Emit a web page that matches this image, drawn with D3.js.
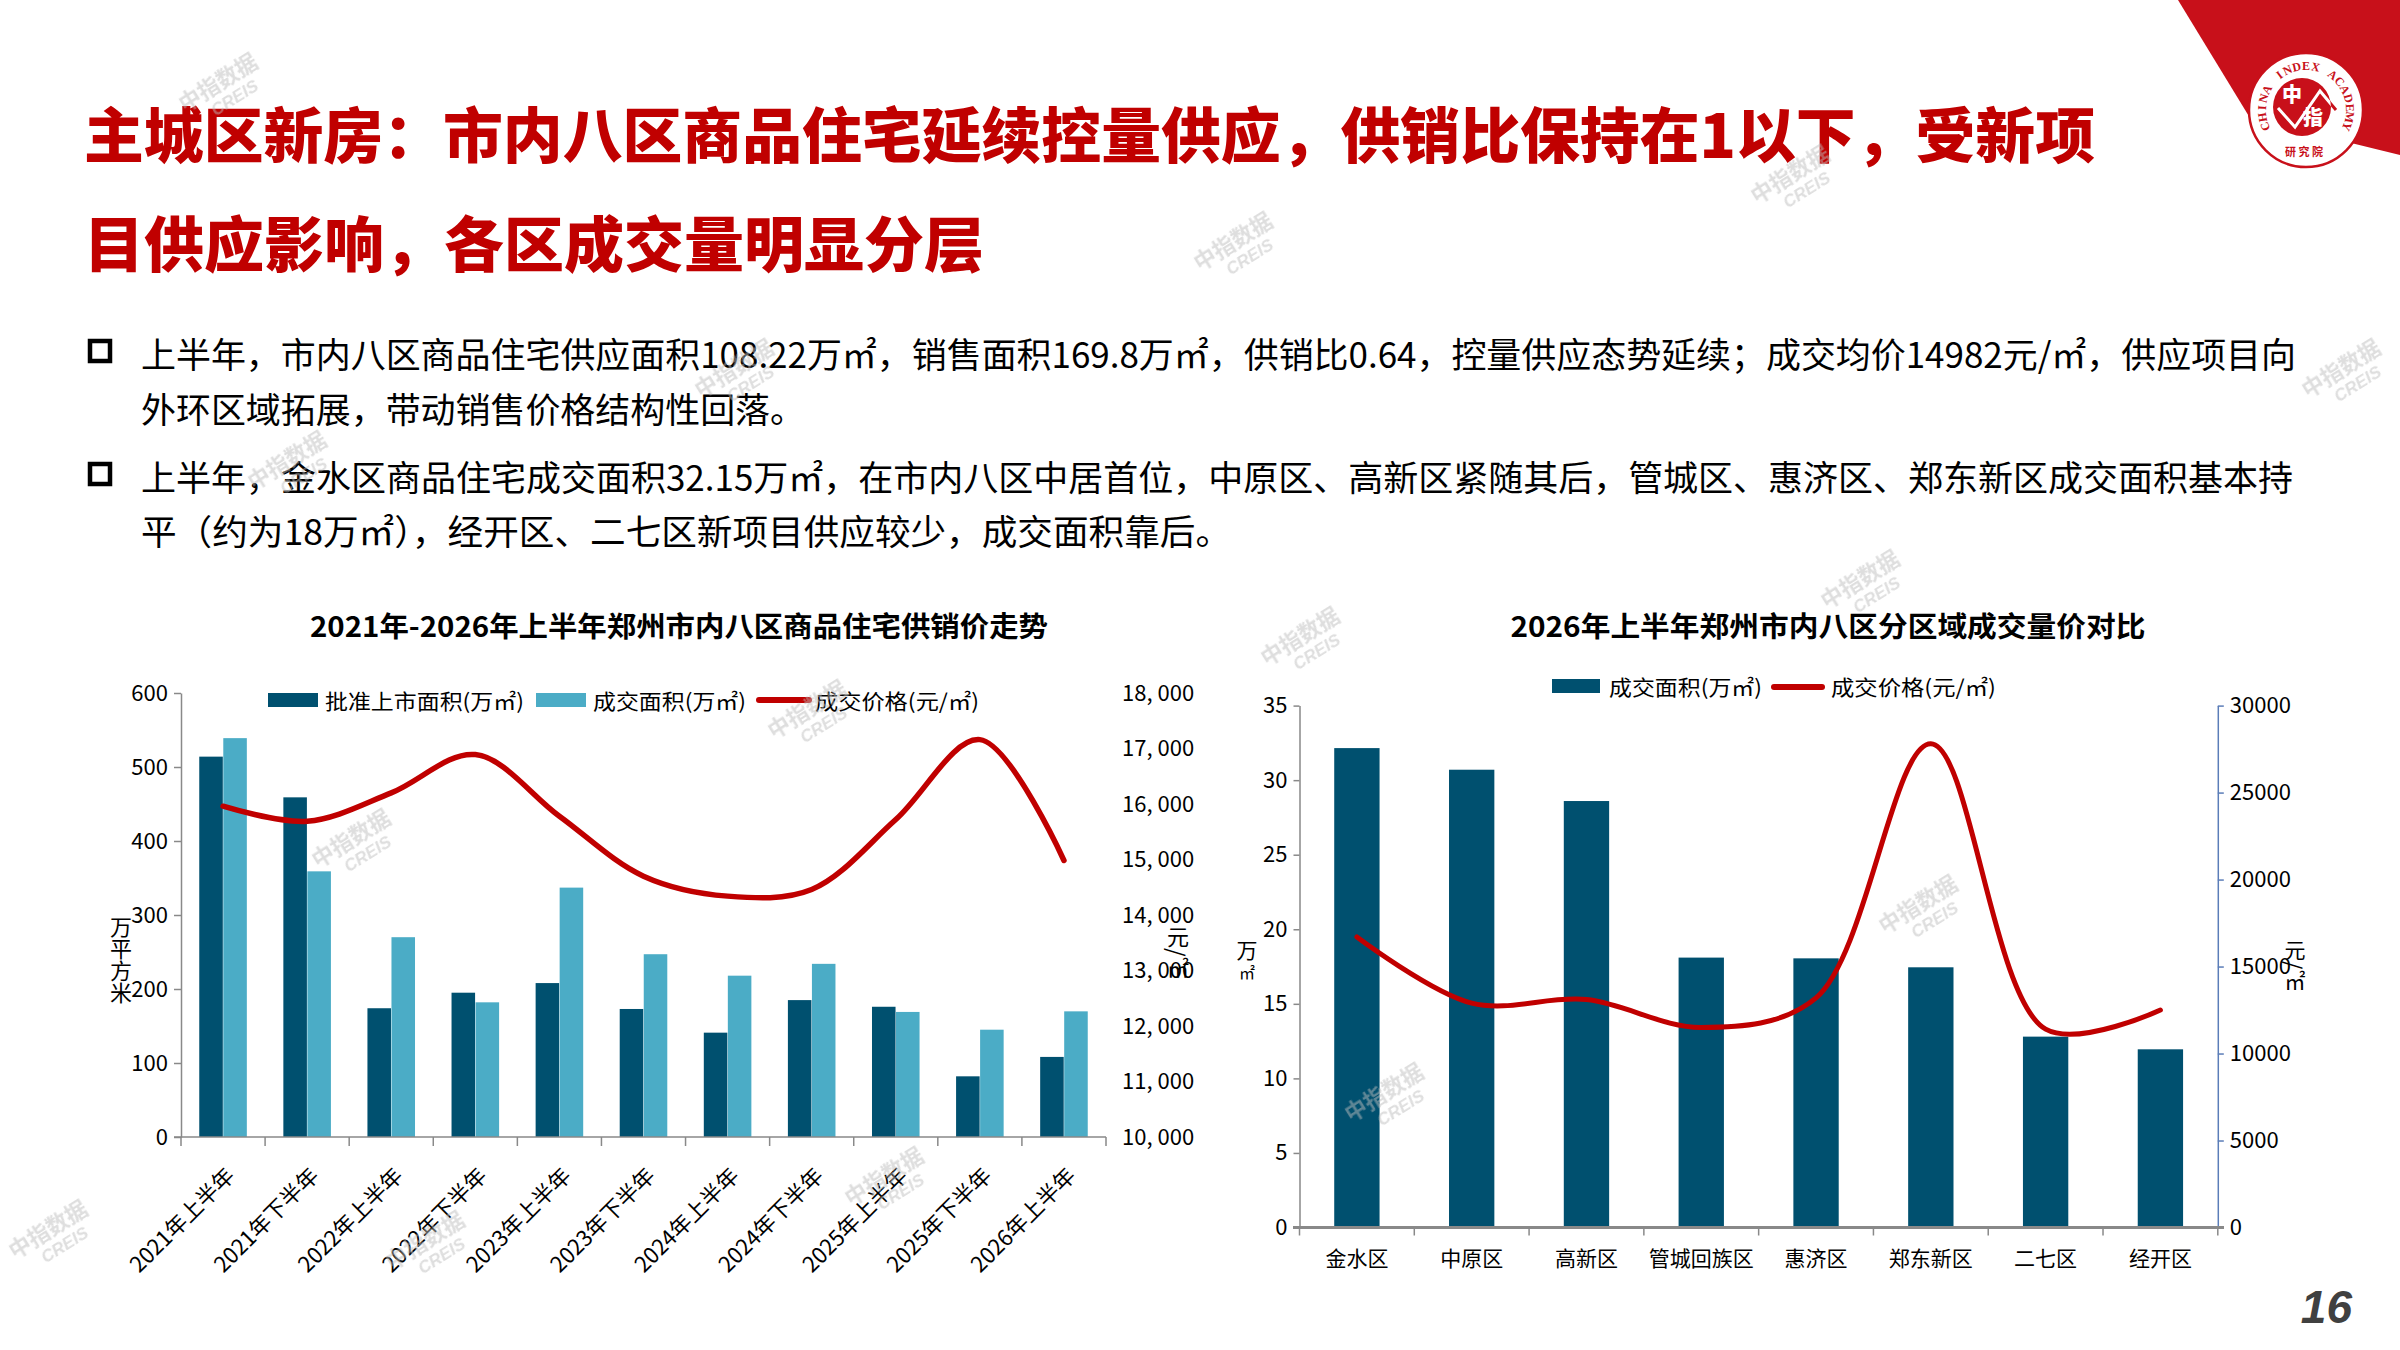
<!DOCTYPE html>
<html>
<head>
<meta charset="utf-8">
<script src="https://cdn.jsdelivr.net/npm/d3@7"></script>
<style>
  body { margin: 0; background: #fff; }
  svg { display: block; }
</style>
</head>
<body>
<svg id="page" width="2400" height="1350"></svg>
<script>
// Data
const periods = ["2021年上半年", "2021年下半年", "2022年上半年", "2022年下半年", "2023年上半年",
    "2023年下半年", "2024年上半年", "2024年下半年", "2025年上半年", "2025年下半年", "2026年上半年"];
const supplyArea = [514, 459, 174, 195, 208, 173, 141, 185, 176, 82, 108.22];   // 批准上市面积 (万㎡)
const salesArea = [539, 359, 270, 182, 337, 247, 218, 234, 169, 145, 169.8];    // 成交面积 (万㎡)
const salesPrice = [15960, 15690, 16200, 16890, 15780, 14700, 14340, 14460, 15720, 17160, 14982]; // 元/㎡
const areaTicks = [0, 100, 200, 300, 400, 500, 600];
const priceTicks = [10000, 11000, 12000, 13000, 14000, 15000, 16000, 17000, 18000];

const districts = ["金水区", "中原区", "高新区", "管城回族区", "惠济区", "郑东新区", "二七区", "经开区"];
const districtArea = [32.15, 30.7, 28.6, 18.1, 18.05, 17.45, 12.8, 11.95];
const districtPrice = [16700, 12900, 13100, 11500, 13200, 27800, 11400, 12500];
const districtAreaTicks = [0, 5, 10, 15, 20, 25, 30, 35];
const districtPriceTicks = [0, 5000, 10000, 15000, 20000, 25000, 30000];

const titleLines = ["主城区新房：市内八区商品住宅延续控量供应，供销比保持在1以下，受新项",
    "目供应影响，各区成交量明显分层"];
const bullets = [
    ["上半年，市内八区商品住宅供应面积108.22万㎡，销售面积169.8万㎡，供销比0.64，控量供应态势延续；成交均价14982元/㎡，供应项目向",
     "外环区域拓展，带动销售价格结构性回落。"],
    ["上半年，金水区商品住宅成交面积32.15万㎡，在市内八区中居首位，中原区、高新区紧随其后，管城区、惠济区、郑东新区成交面积基本持",
     "平（约为18万㎡），经开区、二七区新项目供应较少，成交面积靠后。"]
];

/**************************************************************************************************/
const RED = "#c00000";
const DARK = "#00506f";
const LIGHT = "#4bacc6";
const AXIS = "#898989";
const CJK = "'Noto Sans CJK SC', sans-serif";
const NARROW = "'Liberation Sans Narrow', 'Noto Sans CJK SC', sans-serif";

const svg = d3.select("#page");

/* Header */
const header = svg.append("g");
const lineEnds = [2095, null];
titleLines.forEach((t, i) => {
    const txt = header.append("text")
        .text(t)
        .attr("x", 84)
        .attr("y", [131, 240][i])
        .attr("dominant-baseline", "central")
        .attr("font-family", CJK)
        .attr("font-weight", 900)
        .attr("font-size", 60)
        .attr("fill", RED);
    if (lineEnds[i]) txt.attr("textLength", lineEnds[i] - 84).attr("lengthAdjust", "spacingAndGlyphs");
});

const bulletY = [[352, 407], [475, 529]];
const bulletEnds = [[2296, 805], [2293, 1231]];
bullets.forEach((lines, i) => {
    header.append("rect")
        .attr("x", 90).attr("y", bulletY[i][0] - 11)
        .attr("width", 20).attr("height", 20)
        .attr("fill", "none").attr("stroke", "#000").attr("stroke-width", 4.5);
    lines.forEach((t, j) => {
        header.append("text")
            .text(t)
            .attr("x", 141)
            .attr("y", bulletY[i][j])
            .attr("dominant-baseline", "central")
            .attr("font-family", CJK)
            .attr("font-size", 35)
            .attr("fill", "#000")
            .attr("textLength", bulletEnds[i][j] - 141)
            .attr("lengthAdjust", "spacingAndGlyphs");
    });
});

/* Logo */
const logo = svg.append("g");
const LOGO_RED = "#c8101a";
const lcx = 2306, lcy = 110;
logo.append("polygon")
    .attr("points", "2178,0 2400,0 2400,155 2250,118")
    .attr("fill", LOGO_RED);
logo.append("circle").attr("cx", lcx).attr("cy", lcy).attr("r", 57)
    .attr("fill", "#fff").attr("stroke", LOGO_RED).attr("stroke-width", 2.5);
// ring text, one glyph at a time from lower-left over the top to lower-right
const ringText = "CHINA INDEX ACADEMY".split("");
const ringAngle = d3.scaleLinear().domain([0, ringText.length - 1]).range([-112, 112]);
logo.append("g").selectAll("text")
    .data(ringText)
    .join("text")
        .text(d => d)
        .attr("transform", (d, i) => {
            const a = ringAngle(i);
            const r = a * Math.PI / 180;
            return `translate(${lcx + 44 * Math.sin(r)},${lcy - 44 * Math.cos(r)}) rotate(${a})`;
        })
        .attr("text-anchor", "middle")
        .attr("dominant-baseline", "central")
        .attr("font-family", "'Liberation Serif', serif")
        .attr("font-weight", "bold")
        .attr("font-size", 12)
        .attr("fill", LOGO_RED);
logo.append("circle").attr("cx", 2302).attr("cy", 107).attr("r", 29).attr("fill", LOGO_RED);
logo.append("clipPath").attr("id", "innerClip")
    .append("circle").attr("cx", 2302).attr("cy", 107).attr("r", 29);
const zig = "M2278,108 L2295,127 L2320,91 L2336,110";
logo.append("path").attr("d", zig).attr("fill", "none").attr("stroke", LOGO_RED).attr("stroke-width", 3);
logo.append("path").attr("d", zig).attr("fill", "none").attr("stroke", "#fff").attr("stroke-width", 3)
    .attr("clip-path", "url(#innerClip)");
logo.append("text").text("中").attr("x", 2292).attr("y", 102)
    .attr("text-anchor", "middle").attr("font-family", CJK).attr("font-weight", 900)
    .attr("font-size", 20).attr("fill", "#fff");
logo.append("text").text("指").attr("x", 2313).attr("y", 125)
    .attr("text-anchor", "middle").attr("font-family", CJK).attr("font-weight", 900)
    .attr("font-size", 20).attr("fill", "#fff");
logo.append("text").text("研 究 院").attr("x", 2304).attr("y", 156)
    .attr("text-anchor", "middle").attr("font-family", CJK).attr("font-weight", 700)
    .attr("font-size", 11).attr("fill", LOGO_RED);

/* Shared helpers */
function chartTitle(text, cx, width) {
    svg.append("text")
        .text(text)
        .attr("x", cx).attr("y", 625)
        .attr("text-anchor", "middle")
        .attr("dominant-baseline", "central")
        .attr("font-family", NARROW)
        .attr("font-weight", "bold")
        .attr("font-size", 28)
        .attr("fill", "#000")
        .attr("textLength", width)
        .attr("lengthAdjust", "spacingAndGlyphs");
}

function legendText(g, text, x, y, width) {
    g.append("text")
        .text(text)
        .attr("x", x).attr("y", y)
        .attr("dominant-baseline", "central")
        .attr("font-family", CJK)
        .attr("font-size", 21)
        .attr("fill", "#000")
        .attr("textLength", width)
        .attr("lengthAdjust", "spacingAndGlyphs");
}

function styleAxis(g, color) {
    g.selectAll(".domain").attr("stroke", color).attr("stroke-width", 1.5);
    g.selectAll(".tick line").attr("stroke", color).attr("stroke-width", 1.5);
    g.selectAll(".tick text")
        .attr("font-family", NARROW)
        .attr("font-size", 22)
        .attr("fill", "#000");
}

function verticalLabel(text, x, y, size) {
    svg.append("text")
        .text(text)
        .attr("x", x).attr("y", y)
        .style("writing-mode", "vertical-rl")
        .attr("font-family", CJK)
        .attr("font-size", size)
        .attr("fill", "#000");
}

const fmtComma = v => d3.format(",")(v).replace(",", ", ");

/**************************************************************************************************/
/* Left chart: supply / sales / price trend */
chartTitle("2021年-2026年上半年郑州市内八区商品住宅供销价走势", 679, 738);

const x = d3.scaleBand().domain(periods).range([181, 1106]);
const xSub = d3.scaleBand().domain(["supply", "sales"]).range([0, x.bandwidth()])
    .paddingInner(0.02).paddingOuter(0.76);
const y = d3.scaleLinear().domain([0, 600]).range([1137, 693]);
const yPrice = d3.scaleLinear().domain([10000, 18000]).range([1137, 693]);

const left = svg.append("g");
left.append("g").selectAll("rect.supply")
    .data(periods)
    .join("rect")
        .attr("x", (d, i) => x(d) + xSub("supply"))
        .attr("y", (d, i) => y(supplyArea[i]))
        .attr("width", xSub.bandwidth())
        .attr("height", (d, i) => y(0) - y(supplyArea[i]))
        .attr("fill", DARK);
left.append("g").selectAll("rect.sales")
    .data(periods)
    .join("rect")
        .attr("x", (d, i) => x(d) + xSub("sales"))
        .attr("y", (d, i) => y(salesArea[i]))
        .attr("width", xSub.bandwidth())
        .attr("height", (d, i) => y(0) - y(salesArea[i]))
        .attr("fill", LIGHT);

const yAxisL = left.append("g")
    .attr("transform", "translate(181,0)")
    .call(d3.axisLeft(y).tickValues(areaTicks).tickSize(7).tickPadding(6).tickSizeOuter(0));
styleAxis(yAxisL, AXIS);

const yAxisR = left.append("g")
    .attr("transform", "translate(1106,0)")
    .call(d3.axisRight(yPrice).tickValues(priceTicks).tickFormat(fmtComma).tickSize(0).tickPadding(16));
styleAxis(yAxisR, AXIS);
yAxisR.select(".domain").remove();

// x axis with ticks between categories
left.append("line")
    .attr("x1", 174).attr("x2", 1106).attr("y1", y(0)).attr("y2", y(0))
    .attr("stroke", AXIS).attr("stroke-width", 1.5);
left.append("g").selectAll("line")
    .data(periods.map(p => x(p)).concat([x.range()[1]]))
    .join("line")
        .attr("x1", d => d).attr("x2", d => d)
        .attr("y1", y(0)).attr("y2", y(0) + 9)
        .attr("stroke", AXIS).attr("stroke-width", 1.5);
left.append("g").selectAll("text")
    .data(periods)
    .join("text")
        .text(d => d)
        .attr("transform", d => `translate(${x(d) + x.bandwidth() / 2 + 6},${y(0) + 33}) rotate(-45)`)
        .attr("text-anchor", "end")
        .attr("dominant-baseline", "central")
        .attr("font-family", NARROW)
        .attr("font-size", 22)
        .attr("fill", "#000");

left.append("path")
    .datum(periods)
    .attr("d", d3.line()
        .x(d => x(d) + x.bandwidth() / 2)
        .y((d, i) => yPrice(salesPrice[i]))
        .curve(d3.curveCatmullRom))
    .attr("fill", "none")
    .attr("stroke", RED)
    .attr("stroke-width", 5.5)
    .attr("stroke-linecap", "round");

verticalLabel("万平方米", 121, 916, 22);
verticalLabel("元/㎡", 1178, 926, 22);

// legend
const legL = svg.append("g");
legL.append("rect").attr("x", 268).attr("y", 693).attr("width", 50).attr("height", 14).attr("fill", DARK);
legendText(legL, "批准上市面积(万㎡)", 325, 700, 199);
legL.append("rect").attr("x", 536).attr("y", 693).attr("width", 50).attr("height", 14).attr("fill", LIGHT);
legendText(legL, "成交面积(万㎡)", 593, 700, 153);
legL.append("line").attr("x1", 759).attr("x2", 809).attr("y1", 700).attr("y2", 700)
    .attr("stroke", RED).attr("stroke-width", 6).attr("stroke-linecap", "round");
legendText(legL, "成交价格(元/㎡)", 815, 700, 164);

/**************************************************************************************************/
/* Right chart: district area / price */
chartTitle("2026年上半年郑州市内八区分区域成交量价对比", 1828, 635);

const x2 = d3.scaleBand().domain(districts).range([1299.5, 2217.8]).paddingInner(0.605).paddingOuter(0.3025);
const y2 = d3.scaleLinear().domain([0, 35]).range([1227.5, 705.6]);
const y2Price = d3.scaleLinear().domain([0, 30000]).range([1227.5, 705.6]);

const right = svg.append("g");
right.append("g").selectAll("rect")
    .data(districts)
    .join("rect")
        .attr("x", d => x2(d))
        .attr("y", (d, i) => y2(districtArea[i]))
        .attr("width", x2.bandwidth())
        .attr("height", (d, i) => y2(0) - y2(districtArea[i]))
        .attr("fill", DARK);

const y2AxisL = right.append("g")
    .attr("transform", "translate(1299.5,0)")
    .call(d3.axisLeft(y2).tickValues(districtAreaTicks).tickSize(6).tickPadding(6).tickSizeOuter(0));
styleAxis(y2AxisL, AXIS);

const y2AxisR = right.append("g")
    .attr("transform", "translate(2217.8,0)")
    .call(d3.axisRight(y2Price).tickValues(districtPriceTicks).tickFormat(d3.format("d"))
        .tickSize(6).tickPadding(6).tickSizeOuter(0));
styleAxis(y2AxisR, "#5b7db8");

right.append("line")
    .attr("x1", 1293).attr("x2", 2224).attr("y1", y2(0)).attr("y2", y2(0))
    .attr("stroke", AXIS).attr("stroke-width", 3);
right.append("g").selectAll("line")
    .data(d3.range(districts.length + 1).map(i => x2.range()[0] + i * x2.step()))
    .join("line")
        .attr("x1", d => d).attr("x2", d => d)
        .attr("y1", y2(0)).attr("y2", y2(0) + 8)
        .attr("stroke", AXIS).attr("stroke-width", 1.5);
right.append("g").selectAll("text")
    .data(districts)
    .join("text")
        .text(d => d)
        .attr("x", d => x2(d) + x2.bandwidth() / 2)
        .attr("y", 1257)
        .attr("text-anchor", "middle")
        .attr("dominant-baseline", "central")
        .attr("font-family", CJK)
        .attr("font-size", 21)
        .attr("fill", "#000");

right.append("path")
    .datum(districts)
    .attr("d", d3.line()
        .x(d => x2(d) + x2.bandwidth() / 2)
        .y((d, i) => y2Price(districtPrice[i]))
        .curve(d3.curveCatmullRom))
    .attr("fill", "none")
    .attr("stroke", RED)
    .attr("stroke-width", 5)
    .attr("stroke-linecap", "round");

svg.append("text").text("万").attr("x", 1247).attr("y", 949)
    .attr("text-anchor", "middle").attr("dominant-baseline", "central")
    .attr("font-family", CJK).attr("font-size", 21).attr("fill", "#000");
svg.append("text").text("㎡").attr("x", 1247).attr("y", 972)
    .attr("text-anchor", "middle").attr("dominant-baseline", "central")
    .attr("font-family", CJK).attr("font-size", 16).attr("fill", "#000");
verticalLabel("元/㎡", 2295, 940, 21);

const legR = svg.append("g");
legR.append("rect").attr("x", 1552).attr("y", 679).attr("width", 48).attr("height", 14).attr("fill", DARK);
legendText(legR, "成交面积(万㎡)", 1609, 686, 153);
legR.append("line").attr("x1", 1774).attr("x2", 1822).attr("y1", 687).attr("y2", 687)
    .attr("stroke", RED).attr("stroke-width", 6).attr("stroke-linecap", "round");
legendText(legR, "成交价格(元/㎡)", 1831, 686, 165);

/**************************************************************************************************/
/* Page number and watermarks */
svg.append("text").text("16")
    .attr("x", 2352).attr("y", 1323)
    .attr("text-anchor", "end")
    .attr("font-family", "'Liberation Sans Narrow', sans-serif")
    .attr("font-weight", "bold")
    .attr("font-style", "italic")
    .attr("font-size", 46)
    .attr("fill", "#404040");

const marks = [[222, 89], [1794, 181], [1237, 248], [2345, 375], [738, 375], [291, 467], [355, 845],
    [811, 716], [1864, 586], [1304, 643], [1922, 911], [1388, 1099], [888, 1183], [429, 1247], [52, 1236]];
const wm = svg.append("g").attr("opacity", 0.5);
marks.forEach(([mx, my]) => {
    const g = wm.append("g").attr("transform", `translate(${mx},${my}) rotate(-32)`);
    g.append("text").text("中指数据")
        .attr("text-anchor", "middle")
        .attr("font-family", CJK).attr("font-weight", 700).attr("font-size", 22)
        .attr("fill", "#bdbdbd");
    g.append("text").text("CREIS")
        .attr("x", 6).attr("y", 20)
        .attr("text-anchor", "middle")
        .attr("font-family", "'Liberation Sans', sans-serif").attr("font-weight", 700)
        .attr("font-style", "italic").attr("font-size", 17)
        .attr("fill", "#bdbdbd");
});
</script>
</body>
</html>
